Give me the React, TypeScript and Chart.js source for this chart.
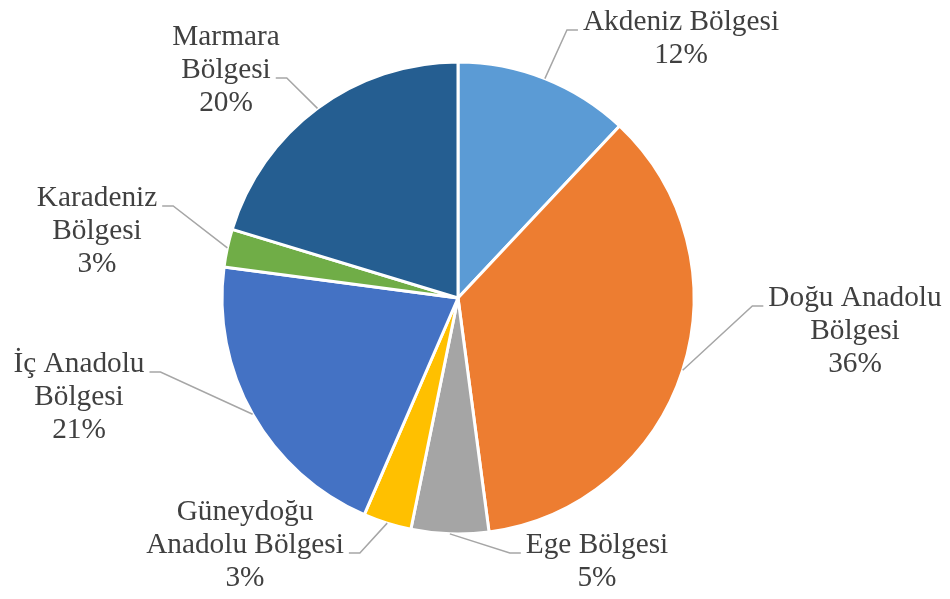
import React, { useEffect, useRef } from "react";
import { Chart, registerables } from "chart.js";

Chart.register(...registerables);

const categories = [
  "Akdeniz Bölgesi",
  "Doğu Anadolu Bölgesi",
  "Ege Bölgesi",
  "Güneydoğu Anadolu Bölgesi",
  "İç Anadolu Bölgesi",
  "Karadeniz Bölgesi",
  "Marmara Bölgesi",
];
const shares = [12.0, 35.9, 5.3, 3.3, 20.6, 2.6, 20.3];
const percentLabels = ["12%", "36%", "5%", "3%", "21%", "3%", "20%"];
const sliceColors = ["#5B9BD5", "#ED7D31", "#A5A5A5", "#FFC000", "#4472C4", "#70AD47", "#255E91"];
const wordsPerLine = [[2], [2, 1], [2], [1, 2], [2, 1], [1, 1], [1, 1]];

// label layout relative to pie centre: block centre x, first baseline y, which line the leader attaches to, side
const labelLayout = [
  { dx: 223, dy: -268, line: 0, side: "left" },
  { dx: 397, dy: 8, line: 0, side: "left" },
  { dx: 139, dy: 255, line: 0, side: "left" },
  { dx: -213, dy: 222, line: 1, side: "right" },
  { dx: -379, dy: 74, line: 0, side: "right" },
  { dx: -361, dy: -92, line: 0, side: "right" },
  { dx: -232, dy: -253, line: 1, side: "right" },
];

const FONT = '29.3px "Liberation Serif", "Times New Roman", serif';
const LINE_H = 33;

function splitLines(name: string, counts: number[]): string[] {
  const words = name.split(" ");
  const out: string[] = [];
  let k = 0;
  for (const c of counts) {
    out.push(words.slice(k, k + c).join(" "));
    k += c;
  }
  return out;
}

const labelPlugin = {
  id: "pieLabels",
  afterDatasetsDraw(chart: any) {
    const ctx = chart.ctx as CanvasRenderingContext2D;
    const meta = chart.getDatasetMeta(0);
    ctx.save();
    ctx.font = FONT;
    meta.data.forEach((arc: any, i: number) => {
      const p = arc.getProps(["x", "y", "startAngle", "endAngle", "outerRadius"], true);
      const mid = (p.startAngle + p.endAngle) / 2;
      const ax = p.x + Math.cos(mid) * p.outerRadius;
      const ay = p.y + Math.sin(mid) * p.outerRadius;
      const lay = labelLayout[i];
      const lines = [...splitLines(categories[i], wordsPerLine[i]), percentLabels[i]];
      const cx = p.x + lay.dx;
      const by = p.y + lay.dy;
      const lineText = lines[lay.line];
      const w = ctx.measureText(lineText).width;
      const ty = by + lay.line * LINE_H;
      let tx: number, ex: number;
      if (lay.side === "left") {
        tx = cx - w / 2 - 5;
        ex = tx - 11;
      } else {
        tx = cx + w / 2 + 5;
        ex = tx + 11;
      }
      ctx.strokeStyle = "#A6A6A6";
      ctx.lineWidth = 1.5;
      ctx.beginPath();
      ctx.moveTo(ax, ay);
      ctx.lineTo(ex, ty);
      ctx.lineTo(tx, ty);
      ctx.stroke();
      ctx.fillStyle = "#404040";
      ctx.textAlign = "center";
      ctx.textBaseline = "alphabetic";
      lines.forEach((t, j) => {
        ctx.fillText(t, cx, by + j * LINE_H);
      });
    });
    ctx.restore();
  },
};

export default function App() {
  const canvasRef = useRef<HTMLCanvasElement | null>(null);
  useEffect(() => {
    const canvas = canvasRef.current;
    if (!canvas) return;
    const chart = new Chart(canvas, {
      type: "pie",
      data: {
        labels: categories,
        datasets: [
          {
            data: shares,
            backgroundColor: sliceColors,
            borderColor: "#FFFFFF",
            borderWidth: 3,
          },
        ],
      },
      options: {
        responsive: false,
        animation: false,
        layout: { padding: { left: 220.5, right: 254.5, top: 60.5, bottom: 63.5 } },
        plugins: {
          legend: { display: false },
          tooltip: { enabled: false },
        },
      },
      plugins: [labelPlugin],
    });
    return () => chart.destroy();
  }, []);
  return (
    <div style={{ position: "fixed", left: 0, top: 0, width: 950, height: 599, background: "#fff" }}>
      <canvas ref={canvasRef} width={950} height={599} style={{ display: "block" }} />
    </div>
  );
}
